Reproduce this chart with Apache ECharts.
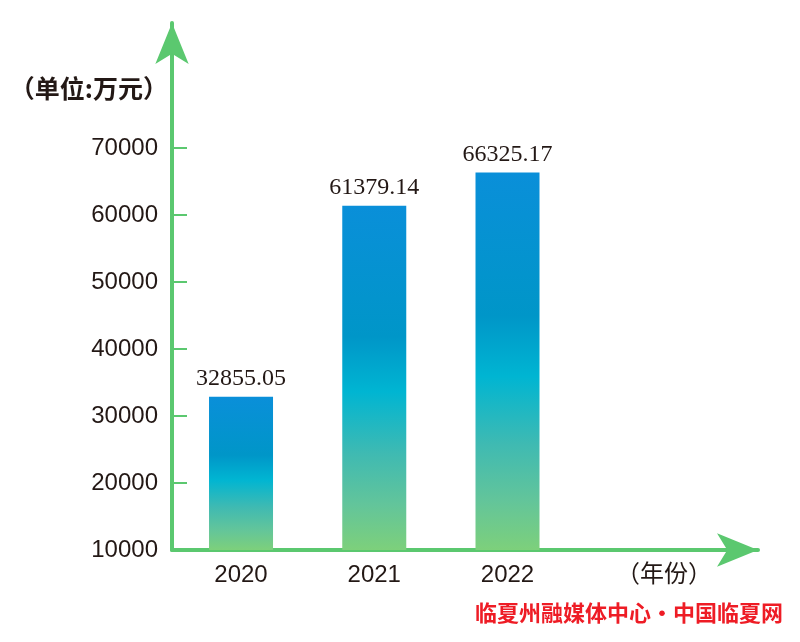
<!DOCTYPE html>
<html>
<head>
<meta charset="utf-8">
<script src="https://cdn.jsdelivr.net/npm/echarts@6/dist/echarts.min.js"></script>
<style>
  html, body { margin: 0; padding: 0; background: #fff; }
  #main { width: 800px; height: 642px; }
</style>
</head>
<body>
<div id="main"></div>
<script>
// 年份和收入数据
var years = ['2020', '2021', '2022'];
var values = [32855.05, 61379.14, 66325.17];
var yTicks = [10000, 20000, 30000, 40000, 50000, 60000, 70000];

var green = '#5bc86f';
var textColor = '#231815';

var chart = echarts.init(document.getElementById('main'));

var option = {
  backgroundColor: '#fff',
  animation: false,
  grid: {
    left: 172,
    right: 42,
    top: 23,
    bottom: 92
  },
  xAxis: {
    type: 'value',
    min: -0.518,
    max: 3.88,
    splitLine: { show: false },
    axisLine: {
      show: true,
      onZero: false,
      symbol: ['none', 'arrow'],
      symbolSize: [25, 41],
      lineStyle: { color: green, width: 4 }
    },
    axisTick: { show: false },
    axisLabel: {
      customValues: [0, 1, 2],
      formatter: function (v) { return years[Math.round(v)]; },
      color: textColor,
      fontFamily: 'Liberation Sans',
      fontSize: 24,
      margin: 13
    },
    name: '（年份）',
    nameLocation: 'end',
    nameGap: -46,
    nameTextStyle: {
      color: textColor,
      fontFamily: 'Noto Sans CJK SC',
      fontSize: 24,
      align: 'right',
      verticalAlign: 'top',
      padding: [11, 0, 0, 0]
    }
  },
  yAxis: {
    type: 'value',
    min: 10000,
    max: 88657,
    splitLine: { show: false },
    axisLine: {
      show: true,
      onZero: false,
      symbol: ['none', 'arrow'],
      symbolSize: [25, 41],
      lineStyle: { color: green, width: 4 }
    },
    axisTick: {
      show: true,
      inside: true,
      length: 15,
      customValues: [20000, 30000, 40000, 50000, 60000, 70000],
      lineStyle: { color: green, width: 2 }
    },
    axisLabel: {
      customValues: yTicks,
      formatter: function (v) { return String(v); },
      color: textColor,
      fontFamily: 'Liberation Sans',
      fontSize: 24,
      margin: 14
    },
    name: '（单位:万元）',
    nameLocation: 'end',
    nameGap: -65,
    nameTextStyle: {
      color: textColor,
      fontFamily: 'Noto Sans CJK SC',
      fontWeight: 'bold',
      fontSize: 25,
      align: 'right',
      verticalAlign: 'middle',
      padding: [0, 4, 0, 0]
    }
  },
  series: [{
    type: 'bar',
    barWidth: 64,
    data: values.map(function (v, i) { return [i, v]; }),
    itemStyle: {
      color: new echarts.graphic.LinearGradient(0, 0, 0, 1, [
        { offset: 0, color: '#0a8fd9' },
        { offset: 0.38, color: '#0096c8' },
        { offset: 0.54, color: '#00b5d2' },
        { offset: 0.72, color: '#3fbab2' },
        { offset: 0.87, color: '#63c59a' },
        { offset: 1, color: '#7dd07b' }
      ])
    },
    label: {
      show: true,
      position: 'top',
      distance: 6,
      formatter: function (p) { return values[p.dataIndex].toFixed(2); },
      color: textColor,
      fontFamily: 'Liberation Serif',
      fontSize: 24
    }
  }],
  graphic: [{
    type: 'text',
    right: 17,
    bottom: 18,
    style: {
      text: '临夏州融媒体中心·中国临夏网',
      fill: '#ee1c25',
      font: 'bold 22px "Noto Sans CJK SC"'
    }
  }]
};

chart.setOption(option);
</script>
</body>
</html>
